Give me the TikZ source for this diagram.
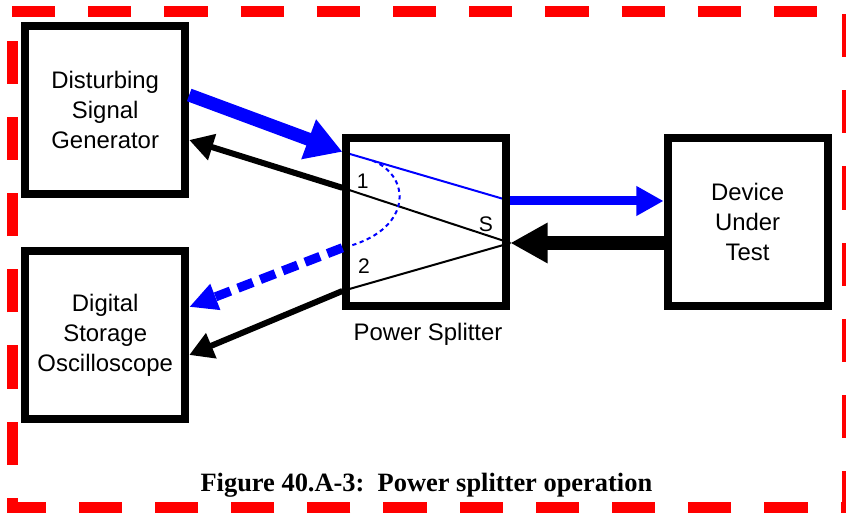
\documentclass[tikz,border=0pt]{standalone}
\usepackage{fontspec}
\setmainfont{Liberation Sans}
\newfontfamily\capfont{Liberation Serif}
\usepackage{xcolor}
\usetikzlibrary{arrows.meta,calc,backgrounds}
\definecolor{sigblue}{HTML}{0000FF}
\definecolor{framered}{HTML}{FF0000}
\tikzset{
  box/.style={
    draw=black,
    line width=0.2cm,
    minimum width=4.0cm,
    minimum height=4.2cm,
    align=center,
    font=\fontsize{17}{21.3}\selectfont
  },
  lbl/.style={font=\fontsize{17}{21.3}\selectfont, inner sep=1pt},
  port/.style={font=\fontsize{15}{18}\selectfont, inner sep=1pt},
  frame/.style={draw=framered, line width=0.275cm, dash pattern=on 1.08cm off 0.825cm},
  fwd/.style={draw=sigblue, line width=0.33cm, -{Triangle[length=0.9cm,width=1.0cm]}},
  fwdout/.style={draw=sigblue, line width=0.225cm, -{Triangle[length=0.68cm,width=0.7cm]}},
  dashout/.style={draw=sigblue, line width=0.23cm, dash pattern=on 0.4cm off 0.2cm,
    -{Triangle[length=0.7cm,width=0.65cm]}},
  back/.style={draw=black, line width=0.35cm, -{Triangle[length=0.93cm,width=0.95cm]}},
  backout/.style={draw=black, line width=0.15cm, -{Triangle[length=0.6cm,width=0.65cm]}},
  inner/.style={line width=0.05cm},
  arcline/.style={draw=sigblue, line width=0.05cm, dash pattern=on 3pt off 2.5pt}
}
\begin{document}
\begin{tikzpicture}[x=1cm,y=1cm]
  \useasboundingbox (0,0) rectangle (21.15,12.825);

  \draw[frame] (0.3,12.54) -- (21.19,12.54) -- (21.19,0.14) -- (0.3,0.14) -- cycle;

  \node[box] (gen) at (2.63,10.075) {Disturbing\\Signal\\Generator};
  \node[box] (osc) at (2.63,4.45) {Digital\\Storage\\Oscilloscope};
  \node[box] (split) at (10.66,7.27) {};
  \node[box] (dut) at (18.69,7.27) {Device\\Under\\Test};

  \node[lbl] (splitname) at (10.7,4.475) {Power Splitter};
  \node[font=\capfont\bfseries\fontsize{18.8}{22}\selectfont] (caption) at (10.66,0.7)
    {Figure 40.A-3:\ \ Power splitter operation};

  \coordinate (s1) at ([yshift=1.76cm]split.west);
  \coordinate (r1) at ([yshift=0.86cm]split.west);
  \coordinate (s2) at ([yshift=-0.64cm]split.west);
  \coordinate (r2) at ([yshift=-1.72cm]split.west);
  \coordinate (sa) at ([yshift=0.53cm]split.east);
  \coordinate (sb) at ([yshift=-0.52cm]split.east);

  \begin{pgfonlayer}{background}
    \draw[inner, sigblue] (s1) -- (sa);
    \draw[inner] (r1) -- (sb);
    \draw[inner] (sb) -- (r2);
    \draw[arcline] ($(s1)!0.18!(sa)$) .. controls +(1.0,-0.4) and +(1.75,0.4) .. (s2);
  \end{pgfonlayer}

  \node[port] (p1) at ([shift={(-1.59,1.03)}]split.center) {1};
  \node[port] (p2) at ([shift={(-1.56,-1.09)}]split.center) {2};
  \node[port] (ps) at ([shift={(1.49,-0.04)}]split.center) {S};

  \draw[fwd] ([yshift=0.375cm]gen.east) -- (s1);
  \draw[backout] (r1) -- ([yshift=-0.75cm]gen.east);
  \draw[dashout] (s2) -- ([yshift=0.7cm]osc.east);
  \draw[backout] (r2) -- ([yshift=-0.5cm]osc.east);
  \draw[fwdout] (sa) -- (sa -| dut.west);
  \draw[back] (sb -| dut.west) -- (sb);
\end{tikzpicture}
\end{document}
